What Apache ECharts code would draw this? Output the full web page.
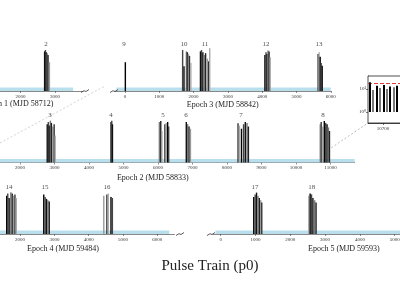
<!DOCTYPE html>
<html><head><meta charset="utf-8">
<script src="https://cdn.jsdelivr.net/npm/echarts@6/dist/echarts.min.js"></script>
<style>html,body{margin:0;padding:0;background:#fff}#c{width:400px;height:300px}</style>
</head><body><div id="c"></div>
<script>
const FONT = 'Liberation Serif, DejaVu Serif, serif';

// ---- Data ----
const e1Times = [2700, 2725, 2750, 2775, 2800, 2840];
const e1Heights = [0.88, 0.91, 0.86, 0.84, 0.80, 0.64];
const e1Labels = ['2'];
const e1LabelPos = [2740];
const e1Ticks = [0, 1000, 2000, 3000];

const e3Times = [10, 1680, 1720, 1790, 1820, 1850, 1880, 1920, 2200, 2230, 2270, 2310, 2350, 2400, 2440, 2470, 4080, 4110, 4140, 4170, 4200, 4230, 5630, 5660, 5690, 5720, 5750];
const e3Heights = [0.64, 0.91, 0.55, 0.88, 0.86, 0.82, 0.78, 0.62, 0.88, 0.91, 0.86, 0.80, 0.84, 0.72, 0.66, 0.95, 0.80, 0.86, 0.82, 0.90, 0.88, 0.75, 0.82, 0.86, 0.76, 0.62, 0.56];
const e3Labels = ['9', '10', '11', '12', '13'];
const e3LabelPos = [-30, 1720, 2330, 4110, 5655];
const e3Ticks = [0, 1000, 2000, 3000, 4000, 5000, 6000];

const e2Times = [2790, 2820, 2850, 2880, 2910, 2950, 2990, 3020, 4640, 4660, 4680, 6040, 6080, 6110, 6200, 6240, 6280, 6310, 6820, 6860, 6900, 6940, 8320, 8360, 8420, 8480, 8530, 8580, 8620, 10700, 10730, 10770, 10820, 10860, 10900, 10940, 10970];
const e2Heights = [0.85, 0.90, 0.82, 0.93, 0.88, 0.80, 0.85, 0.60, 0.90, 0.93, 0.85, 0.90, 0.92, 0.70, 0.85, 0.88, 0.90, 0.80, 0.90, 0.85, 0.80, 0.75, 0.87, 0.82, 0.75, 0.85, 0.90, 0.88, 0.80, 0.85, 0.90, 0.80, 0.92, 0.88, 0.85, 0.78, 0.70];
const e2Labels = ['3', '4', '5', '6', '7', '8'];
const e2LabelPos = [2870, 4640, 6145, 6810, 8405, 10780];
const e2Ticks = [0, 1000, 2000, 3000, 4000, 5000, 6000, 7000, 8000, 9000, 10000, 11000];

const e4Times = [1610, 1640, 1680, 1730, 1770, 1810, 1850, 1890, 2690, 2730, 2770, 2810, 2850, 4440, 4530, 4570, 4650, 4690];
const e4Heights = [0.85, 0.90, 0.80, 0.93, 0.90, 0.85, 0.88, 0.80, 0.88, 0.82, 0.78, 0.75, 0.72, 0.85, 0.88, 0.90, 0.82, 0.80];
const e4Labels = ['14', '15', '16'];
const e4LabelPos = [1676, 2726, 4530];
const e4Ticks = [0, 1000, 2000, 3000, 4000, 5000, 6000];

const e5Times = [950, 990, 1030, 1070, 1110, 1150, 1180, 2530, 2570, 2610, 2650, 2700, 2740];
const e5Heights = [0.82, 0.88, 0.92, 0.85, 0.80, 0.75, 0.70, 0.85, 0.90, 0.88, 0.80, 0.75, 0.70];
const e5Labels = ['17', '18'];
const e5LabelPos = [986, 2615];
const e5Ticks = [0, 1000, 2000, 3000, 4000, 5000, 6000, 7000];

const insetTimes = [10687, 10690, 10694, 10697, 10701, 10704, 10707, 10711, 10714, 10718, 10722, 10726, 10730];
const insetHeights = [20, 9, 14, 11, 15, 10, 13, 12, 14, 11, 12, 13, 10];
const insetThreshold = [18];
const insetXTicks = [10700];
const insetYTicks = [1, 10];

// ---- Layout (positions / styles) ----
const panels = [
  {name: 'Epoch 1 (MJD 58712)', t: e1Times, h: e1Heights, lab: e1Labels, lp: e1LabelPos, ticks: e1Ticks, min: 0, max: 3820, band: [0, 3530], x0: -48, k: 0.0343, bottom: 91, nameGap: 7},
  {name: 'Epoch 3 (MJD 58842)', t: e3Times, h: e3Heights, lab: e3Labels, lp: e3LabelPos, ticks: e3Ticks, min: -300, max: 6000, band: [-250, 6000], x0: 125, k: 0.0343, bottom: 91, nameGap: 10},
  {name: 'Epoch 2 (MJD 58833)', t: e2Times, h: e2Heights, lab: e2Labels, lp: e2LabelPos, ticks: e2Ticks, min: 0, max: 11700, band: [0, 11700], x0: -49, k: 0.0345, bottom: 162.5, nameGap: 11},
  {name: 'Epoch 4 (MJD 59484)', t: e4Times, h: e4Heights, lab: e4Labels, lp: e4LabelPos, ticks: e4Ticks, min: 0, max: 6500, band: [0, 6350], x0: -48.5, k: 0.0343, bottom: 234, nameGap: 11},
  {name: 'Epoch 5 (MJD 59593)', t: e5Times, h: e5Heights, lab: e5Labels, lp: e5LabelPos, ticks: e5Ticks, min: -220, max: 7300, band: [-150, 7300], x0: 220.7, k: 0.0348, bottom: 234, nameGap: 11}
];
const grays = ['#000', '#444', '#111', '#777', '#222', '#999', '#333', '#aaa'];
const PH = 45;
const plain = (v) => String(v);

const grid = [], xAxis = [], yAxis = [], series = [];
panels.forEach((p, i) => {
  grid.push({left: p.x0 + p.min * p.k, width: (p.max - p.min) * p.k, top: p.bottom - PH, height: PH, outerBoundsMode: 'none', containLabel: false});
  xAxis.push({
    type: 'value', gridIndex: i, min: p.min, max: p.max,
    name: p.name, nameLocation: 'middle', nameGap: p.nameGap,
    nameTextStyle: {fontFamily: FONT, fontSize: 8, color: '#222'},
    axisLine: {show: true, lineStyle: {color: '#555', width: 0.7}},
    axisTick: {show: true, length: 2, lineStyle: {color: '#444', width: 0.6}, customValues: p.ticks},
    axisLabel: {show: true, fontFamily: FONT, fontSize: 5, color: '#333', margin: 3, customValues: p.ticks, formatter: plain},
    splitLine: {show: false}
  });
  yAxis.push({type: 'value', gridIndex: i, min: 0, max: 1, show: false});
  series.push({
    type: 'bar', xAxisIndex: i, yAxisIndex: i, barWidth: 1.4, silent: true,
    data: p.t.map((t, j) => [t, p.h[j]]),
    itemStyle: {color: (q) => grays[q.dataIndex % grays.length]},
    markArea: {silent: true, itemStyle: {color: '#b3dbea', opacity: 0.9},
      data: [[{coord: [p.band[0], 0]}, {coord: [p.band[1], 0.08]}]]},
    z: 3
  });
  series.push({
    type: 'scatter', xAxisIndex: i, yAxisIndex: i, symbolSize: 1, silent: true,
    itemStyle: {color: 'rgba(0,0,0,0)'},
    data: p.lp.map((x, j) => [x, 0.93, p.lab[j]]),
    label: {show: true, position: 'top', distance: 1, formatter: (q) => q.data[2], fontFamily: FONT, fontSize: 7, color: '#222'}
  });
});

// inset
const ii = panels.length;
grid.push({left: 368, top: 76, width: 50, height: 47, show: true, borderColor: '#222', borderWidth: 0.8, backgroundColor: '#fff', outerBoundsMode: 'none', containLabel: false, z: 5});
xAxis.push({
  type: 'value', gridIndex: ii, min: 10685, max: 10735,
  axisLine: {show: true, lineStyle: {color: '#222', width: 0.8}},
  axisTick: {show: true, length: 2, customValues: insetXTicks, lineStyle: {color: '#222', width: 0.6}},
  axisLabel: {show: true, fontFamily: FONT, fontSize: 5, color: '#333', margin: 3, customValues: insetXTicks, formatter: plain},
  splitLine: {show: false}
});
const sup = ['\u2070', '\u00b9', '\u00b2'];
yAxis.push({
  type: 'log', logBase: 10, gridIndex: ii, min: 0.33, max: 37,
  axisLine: {show: true, lineStyle: {color: '#222', width: 0.8}},
  axisTick: {show: true, length: 2, customValues: insetYTicks, lineStyle: {color: '#222', width: 0.6}},
  axisLabel: {show: true, fontFamily: FONT, fontSize: 5, color: '#333', margin: 2, customValues: insetYTicks,
    formatter: (v) => '10' + sup[Math.round(Math.log10(v))]},
  splitLine: {show: false}, minorTick: {show: false}
});
series.push({
  type: 'bar', xAxisIndex: ii, yAxisIndex: ii, barWidth: 2, silent: true,
  data: insetTimes.map((t, j) => [t, insetHeights[j]]),
  itemStyle: {color: (q) => (q.dataIndex % 2 ? '#777' : '#000')},
  markLine: {silent: true, symbol: 'none', label: {show: false},
    lineStyle: {color: '#e03b3b', type: 'dashed', width: 1},
    data: insetThreshold.map(v => ({yAxis: v}))},
  z: 6
});

function brk(cx, cy) {
  return {type: 'polyline', silent: true, z: 10,
    shape: {points: [[cx - 4, cy + 1.5], [cx - 1, cy - 0.3], [cx + 1, cy + 0.5], [cx + 4, cy - 1.5]]},
    style: {stroke: '#333', lineWidth: 0.8, fill: null}};
}

const graphic = [
  {type: 'line', silent: true, z: 1, shape: {x1: 0, y1: 143, x2: 105, y2: 86}, style: {stroke: '#c8c8c8', lineWidth: 0.8, lineDash: [2, 2]}},
  {type: 'line', silent: true, z: 1, shape: {x1: 328, y1: 150, x2: 368, y2: 123}, style: {stroke: '#aaa', lineWidth: 0.8, lineDash: [2, 2]}},
  brk(85, 91), brk(114, 91), brk(180, 234), brk(211, 234)
];

const chart = echarts.init(document.getElementById('c'), null, {renderer: 'canvas'});
chart.setOption({
  animation: false,
  backgroundColor: '#fff',
  textStyle: {fontFamily: FONT},
  title: {text: 'Pulse Train (p0)', left: 205, textAlign: 'center', top: 254,
    textStyle: {fontFamily: FONT, fontSize: 15, fontWeight: 'normal', color: '#222'}},
  grid, xAxis, yAxis, series, graphic
});
</script></body></html>
